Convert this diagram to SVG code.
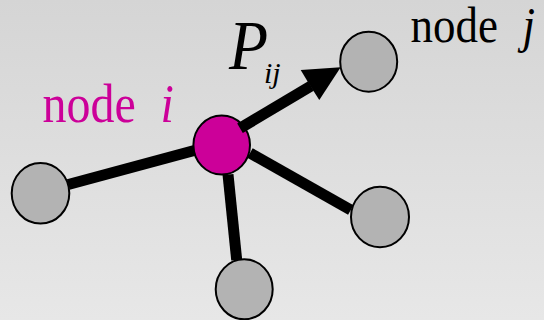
<svg xmlns="http://www.w3.org/2000/svg" width="544" height="320" viewBox="0 0 544 320">
<defs>
<linearGradient id="bg" x1="0" y1="0" x2="0" y2="1">
<stop offset="0" stop-color="#d5d5d5"/>
<stop offset="1" stop-color="#e7e7e7"/>
</linearGradient>
<style>
.node{fill:#b3b3b3;stroke:#000;stroke-width:2}
.hub{fill:#cc0099;stroke:#000;stroke-width:2}
.edge{stroke:#000;stroke-width:11;stroke-linecap:butt;fill:none}
.lbl{fill:#000}
</style>
</defs>
<rect width="544" height="320" fill="url(#bg)"/>
<g id="node-i"><ellipse class="hub" cx="221.7" cy="145" rx="28.3" ry="29.5"/></g>
<g id="node-j"><ellipse class="node" cx="368.7" cy="61.7" rx="28.5" ry="30"/></g>
<g id="node-left"><ellipse class="node" cx="40.5" cy="193.3" rx="28.8" ry="30.3"/></g>
<g id="node-bottom"><ellipse class="node" cx="244.2" cy="289.3" rx="28.5" ry="30"/></g>
<g id="node-right"><ellipse class="node" cx="380" cy="217" rx="29" ry="30.3"/></g>
<g id="connectors">
<line class="edge" x1="194.3" y1="150.5" x2="68.3" y2="184.5"/>
<line class="edge" x1="228" y1="174.5" x2="236.7" y2="260"/>
<line class="edge" x1="250" y1="153" x2="350.8" y2="210"/>
<line class="edge" x1="240" y1="128.3" x2="311" y2="86"/>
<polygon points="340.7,67.3 300.7,70 310,85.5 319.3,100" fill="#000"/>
</g>
<g id="labels" font-family="'Liberation Serif', 'Times New Roman', serif">
<text class="lbl" transform="translate(42.5,121.7) scale(1,1.15)" font-size="48" style="fill:#cc0099">node<tspan x="118" font-style="italic">i</tspan></text>
<text class="lbl" transform="translate(410.5,42) scale(1,1.12)" font-size="45">node<tspan x="112" font-style="italic">j</tspan></text>
<text class="lbl" transform="translate(229,69.3) scale(1,1.1)" font-size="64" font-style="italic">P</text>
<text class="lbl" x="264" y="83.3" font-size="30" font-style="italic">ij</text>
</g>
</svg>
